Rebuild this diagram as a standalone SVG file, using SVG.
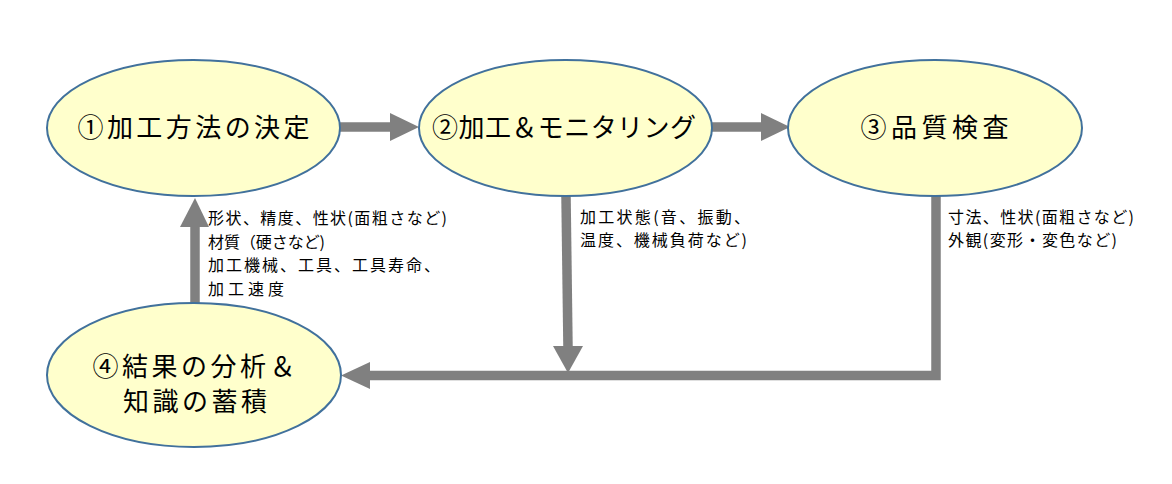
<svg xmlns="http://www.w3.org/2000/svg" width="1172" height="484" viewBox="0 0 1172 484">
<style>
.node{fill:#FFFFCC;stroke:#41719C;stroke-width:2}
.nt{font-family:"Noto Sans CJK JP","Noto Sans CJK SC",sans-serif;font-size:26px;fill:#000;text-anchor:middle}
.lbl{font-family:"Noto Sans CJK JP","Noto Sans CJK SC",sans-serif;font-size:16px;fill:#000}
.shaft{fill:none;stroke:#808080;stroke-width:9.5;stroke-linejoin:miter}
.head{fill:#808080}
</style>
<rect width="1172" height="484" fill="#fff"/>
<g id="connectors">
  <line class="shaft" x1="338" y1="127" x2="392" y2="127"/>
  <polygon class="head" points="390,113 419,127 390,141"/>
  <line class="shaft" x1="710" y1="127" x2="763" y2="127"/>
  <polygon class="head" points="761,113 790,127 761,141"/>
  <line class="shaft" x1="195" y1="305" x2="195" y2="225"/>
  <polygon class="head" points="180,227 195,198 209,227"/>
  <line class="shaft" x1="566" y1="196" x2="568" y2="348"/>
  <polygon class="head" points="553,346 583,346 568,373"/>
  <polyline class="shaft" points="936,196 936,375.5 368,375.5"/>
  <polygon class="head" points="370,362 341,375.5 370,389"/>
  <g id="label-feedback">
    <text class="lbl" x="208" y="224" textLength="239">形状、精度、性状(面粗さなど)</text>
    <text class="lbl" x="208" y="247.5" textLength="117">材質（硬さなど)</text>
    <text class="lbl" x="208" y="271" textLength="232">加工機械、工具、工具寿命、</text>
    <text class="lbl" x="208" y="294.5" textLength="76">加工速度</text>
  </g>
  <g id="label-monitor">
    <text class="lbl" x="580" y="222.5" textLength="170">加工状態(音、振動、</text>
    <text class="lbl" x="580" y="245.5" textLength="167">温度、機械負荷など)</text>
  </g>
  <g id="label-inspect">
    <text class="lbl" x="948" y="222.5" textLength="186">寸法、性状(面粗さなど)</text>
    <text class="lbl" x="948" y="245.5" textLength="169">外観(変形・変色など)</text>
  </g>
</g>
<g id="node1">
  <ellipse class="node" cx="193.5" cy="128" rx="146.5" ry="68"/>
  <text class="nt" x="193.5" y="136.5" textLength="232">①加工方法の決定</text>
</g>
<g id="node2">
  <ellipse class="node" cx="565.5" cy="128" rx="146.5" ry="68"/>
  <text class="nt" x="564" y="136.5" textLength="264">②加工＆モニタリング</text>
</g>
<g id="node3">
  <ellipse class="node" cx="935" cy="128" rx="147" ry="68"/>
  <text class="nt" x="934.5" y="136.5" textLength="148">③品質検査</text>
</g>
<g id="node4">
  <ellipse class="node" cx="194" cy="375" rx="147" ry="72"/>
  <text class="nt" x="194" y="376" textLength="203">④結果の分析＆</text>
  <text class="nt" x="195" y="411" textLength="144">知識の蓄積</text>
</g>
</svg>
